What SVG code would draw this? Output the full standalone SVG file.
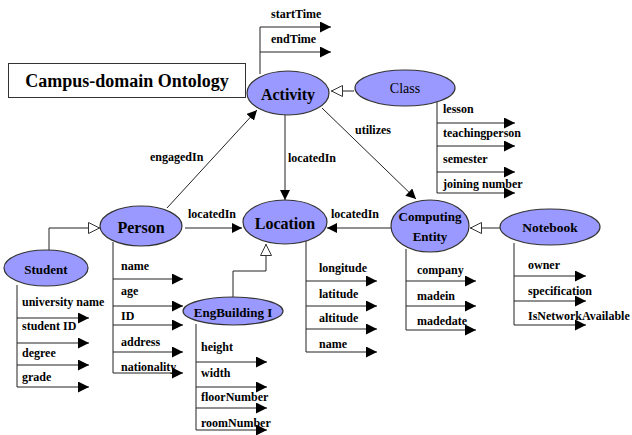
<svg xmlns="http://www.w3.org/2000/svg" width="632" height="435" viewBox="0 0 632 435" font-family="'Liberation Serif', 'DejaVu Serif', serif">
  <defs>
    <marker id="arrow" viewBox="0 0 10 10" refX="10" refY="5" markerWidth="10" markerHeight="10" markerUnits="userSpaceOnUse" orient="auto">
      <path d="M0,0 L10,5 L0,10 Z" fill="#000"/>
    </marker>
    <marker id="attr" viewBox="0 0 10 10" refX="10" refY="5" markerWidth="11" markerHeight="11" markerUnits="userSpaceOnUse" orient="auto">
      <path d="M0,0 L10,5 L0,10 Z" fill="#000"/>
    </marker>
    <marker id="isa" viewBox="0 0 12 12" refX="12" refY="6" markerWidth="12" markerHeight="12" markerUnits="userSpaceOnUse" orient="auto">
      <path d="M0.5,0.5 L11.5,6 L0.5,11.5 Z" fill="#fff" stroke="#333" stroke-width="1"/>
    </marker>
  </defs>
  <style>
    text { font-family: 'Liberation Serif', 'DejaVu Serif', serif; fill: #000; }
    .node ellipse { fill: #9999ff; stroke: #333; stroke-width: 1.2; }
    .name { font-weight: bold; text-anchor: middle; dominant-baseline: central; }
    .plain { font-weight: normal; }
    .attr { font-size: 12px; font-weight: bold; dominant-baseline: central; }
    .elabel { font-size: 12px; font-weight: bold; dominant-baseline: central; }
    .spine { fill: none; stroke: #555; stroke-width: 1.3; }
    .slot { stroke: #222; stroke-width: 1.2; marker-end: url(#attr); }
    .rel { fill: none; stroke: #222; stroke-width: 1; marker-end: url(#arrow); }
    .gen { fill: none; stroke: #222; stroke-width: 1; marker-end: url(#isa); }
  </style>

  <rect width="632" height="435" fill="#fff"/>

  <!-- title -->
  <g id="title">
    <rect x="8.5" y="63.5" width="237" height="34" fill="#fff" stroke="#333" stroke-width="1"/>
    <text x="127" y="81" font-size="18" class="name">Campus-domain Ontology</text>
  </g>

  <!-- connectors: relations, subclass links and attribute slots -->
  <g id="connectors">
    <!-- relations -->
    <line class="rel" x1="167" y1="208" x2="257" y2="110"/>
    <line class="rel" x1="285" y1="115" x2="285" y2="200"/>
    <line class="rel" x1="322" y1="108" x2="416" y2="199"/>
    <line class="rel" x1="185" y1="228" x2="242" y2="228"/>
    <line class="rel" x1="391" y1="228" x2="327" y2="228"/>
    <!-- subclass links -->
    <line class="gen" x1="354" y1="91" x2="331" y2="91"/>
    <polyline class="gen" points="49,251 49,228 100,228"/>
    <polyline class="gen" points="233,298 233,271 266,271 266,244"/>
    <line class="gen" x1="500" y1="228" x2="470" y2="228"/>

    <!-- Activity slots -->
    <polyline class="spine" points="260,74 260,27"/>
    <line class="slot" x1="260" y1="27" x2="331" y2="27"/>
    <line class="slot" x1="260" y1="52" x2="331" y2="52"/>
    <!-- Class slots -->
    <polyline class="spine" points="437,102 437,193"/>
    <line class="slot" x1="437" y1="123" x2="515" y2="123"/>
    <line class="slot" x1="437" y1="146" x2="515" y2="146"/>
    <line class="slot" x1="437" y1="172" x2="515" y2="172"/>
    <line class="slot" x1="437" y1="193" x2="515" y2="193"/>
    <!-- Student slots -->
    <polyline class="spine" points="17,285 17,387"/>
    <line class="slot" x1="17" y1="318" x2="89" y2="318"/>
    <line class="slot" x1="17" y1="343" x2="89" y2="343"/>
    <line class="slot" x1="17" y1="365" x2="89" y2="365"/>
    <line class="slot" x1="17" y1="387" x2="89" y2="387"/>
    <!-- Person slots -->
    <polyline class="spine" points="113,242 113,373"/>
    <line class="slot" x1="113" y1="279" x2="183" y2="279"/>
    <line class="slot" x1="113" y1="306" x2="183" y2="306"/>
    <line class="slot" x1="113" y1="325" x2="183" y2="325"/>
    <line class="slot" x1="113" y1="352" x2="183" y2="352"/>
    <line class="slot" x1="113" y1="373" x2="183" y2="373"/>
    <!-- EngBuilding I slots -->
    <polyline class="spine" points="196,324 196,430"/>
    <line class="slot" x1="196" y1="362" x2="267" y2="362"/>
    <line class="slot" x1="196" y1="387" x2="267" y2="387"/>
    <line class="slot" x1="196" y1="408" x2="267" y2="408"/>
    <line class="slot" x1="196" y1="430" x2="267" y2="430"/>
    <!-- Location slots -->
    <polyline class="spine" points="306,240 306,352"/>
    <line class="slot" x1="306" y1="281" x2="377" y2="281"/>
    <line class="slot" x1="306" y1="306" x2="377" y2="306"/>
    <line class="slot" x1="306" y1="329" x2="377" y2="329"/>
    <line class="slot" x1="306" y1="352" x2="377" y2="352"/>
    <!-- Computing Entity slots -->
    <polyline class="spine" points="406,249 406,330"/>
    <line class="slot" x1="406" y1="281" x2="476" y2="281"/>
    <line class="slot" x1="406" y1="306" x2="476" y2="306"/>
    <line class="slot" x1="406" y1="330" x2="476" y2="330"/>
    <!-- Notebook slots -->
    <polyline class="spine" points="514,243 514,325"/>
    <line class="slot" x1="514" y1="276" x2="586" y2="276"/>
    <line class="slot" x1="514" y1="301" x2="586" y2="301"/>
    <line class="slot" x1="514" y1="325" x2="586" y2="325"/>

    <!-- relation labels -->
    <text class="elabel" x="150" y="157">engagedIn</text>
    <text class="elabel" x="288" y="158">locatedIn</text>
    <text class="elabel" x="355" y="130">utilizes</text>
    <text class="elabel" x="188" y="214">locatedIn</text>
    <text class="elabel" x="331" y="214">locatedIn</text>
  </g>

  <!-- nodes -->
  <g id="activity" class="node">
    <ellipse cx="288" cy="93" rx="41" ry="22"/>
    <text class="name" x="288" y="94" font-size="16">Activity</text>
    <text class="attr" x="271" y="14">startTime</text>
    <text class="attr" x="271" y="39">endTime</text>
  </g>
  <g id="class" class="node">
    <ellipse cx="405" cy="88" rx="50" ry="18"/>
    <text class="name plain" x="405" y="88" font-size="14">Class</text>
    <text class="attr" x="443" y="109">lesson</text>
    <text class="attr" x="443" y="133">teachingperson</text>
    <text class="attr" x="443" y="159">semester</text>
    <text class="attr" x="443" y="184">joining number</text>
  </g>
  <g id="person" class="node">
    <ellipse cx="141" cy="226" rx="41" ry="20"/>
    <text class="name" x="141" y="227" font-size="16">Person</text>
    <text class="attr" x="121" y="266">name</text>
    <text class="attr" x="121" y="291">age</text>
    <text class="attr" x="121" y="316">ID</text>
    <text class="attr" x="121" y="342">address</text>
    <text class="attr" x="121" y="367">nationality</text>
  </g>
  <g id="location" class="node">
    <ellipse cx="285" cy="222" rx="42" ry="22"/>
    <text class="name" x="285" y="223" font-size="16">Location</text>
    <text class="attr" x="319" y="268">longitude</text>
    <text class="attr" x="319" y="294">latitude</text>
    <text class="attr" x="319" y="318">altitude</text>
    <text class="attr" x="319" y="344">name</text>
  </g>
  <g id="student" class="node">
    <ellipse cx="46" cy="268" rx="42" ry="18"/>
    <text class="name" x="46" y="269" font-size="13">Student</text>
    <text class="attr" x="22" y="302">university name</text>
    <text class="attr" x="22" y="326">student ID</text>
    <text class="attr" x="22" y="353">degree</text>
    <text class="attr" x="22" y="377">grade</text>
  </g>
  <g id="engbuilding" class="node">
    <ellipse cx="233" cy="311" rx="50" ry="14"/>
    <text class="name" x="233" y="312" font-size="13">EngBuilding I</text>
    <text class="attr" x="201" y="347">height</text>
    <text class="attr" x="201" y="373">width</text>
    <text class="attr" x="201" y="397">floorNumber</text>
    <text class="attr" x="201" y="423">roomNumber</text>
  </g>
  <g id="computing-entity" class="node">
    <ellipse cx="430" cy="226" rx="39" ry="26"/>
    <text class="name" x="430" y="216" font-size="13">Computing</text>
    <text class="name" x="430" y="236" font-size="13">Entity</text>
    <text class="attr" x="417" y="270">company</text>
    <text class="attr" x="417" y="296">madein</text>
    <text class="attr" x="417" y="321">madedate</text>
  </g>
  <g id="notebook" class="node">
    <ellipse cx="550" cy="227" rx="50" ry="18"/>
    <text class="name" x="550" y="227" font-size="13.5">Notebook</text>
    <text class="attr" x="528" y="265">owner</text>
    <text class="attr" x="528" y="291">specification</text>
    <text class="attr" x="528" y="316">IsNetworkAvailable</text>
  </g>
</svg>
